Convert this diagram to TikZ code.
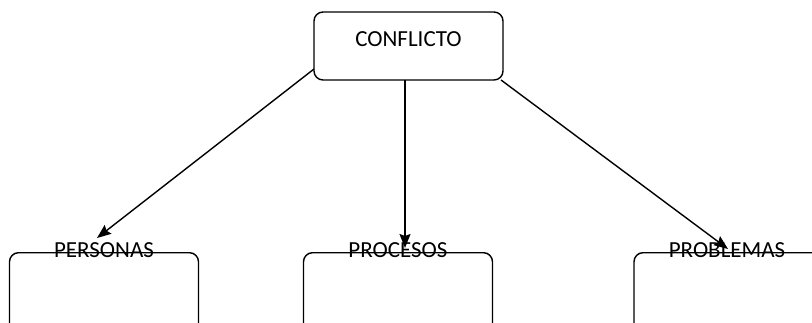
\documentclass[tikz,border=0pt]{standalone}
\usepackage{fontspec}
\setmainfont{Carlito}
\usetikzlibrary{arrows.meta, positioning}

\begin{document}
\begin{tikzpicture}[x=1pt, y=-1pt, line width=1.4pt,
        caja/.style={draw, rounded corners=9pt, minimum width=189pt, inner sep=0pt},
        etiqueta/.style={font=\fontsize{23}{27}\selectfont, inner sep=0pt},
        flecha/.style={-{Stealth[length=14pt, width=11pt, inset=2pt]}}]
        \useasboundingbox (0,0) rectangle (812,322);
        \clip (0,0) rectangle (812,322);
        % Define the nodes
        \node[caja, minimum height=68pt] (conflicto) at (408.5,46) {};
        \node[etiqueta] (tconflicto) at (408.5,39) {CONFLICTO};
        \node[caja, minimum height=120pt, anchor=north] (personas) at (104,252) {};
        \node[caja, minimum height=120pt, anchor=north] (procesos) at (398,252) {};
        \node[caja, minimum height=120pt, anchor=north] (problemas) at (728.5,252) {};
        \node[etiqueta] (tpersonas) at (104,250) {PERSONAS};
        \node[etiqueta] (tprocesos) at (398,250) {PROCESOS};
        \node[etiqueta] (tproblemas) at (727,250) {PROBLEMAS};
        % Define the connectors
        \coordinate (s1) at (314,69);
        \coordinate (e1) at (97,238);
        \coordinate (s2) at (405,80);
        \coordinate (e2) at (405,248);
        \coordinate (s3) at (501,80);
        \coordinate (e3) at (728,249);
        \draw[flecha] (s1) -- (e1);
        \draw[flecha] (s2) -- (e2);
        \draw[flecha] (s3) -- (e3);
    \end{tikzpicture}
\end{document}
